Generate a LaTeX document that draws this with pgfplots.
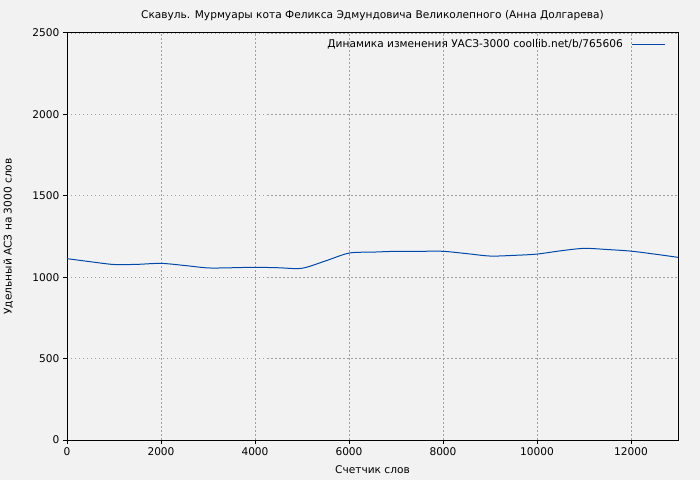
\documentclass[border=0pt]{standalone}
\usepackage{fontspec}
\setmainfont{DejaVu Sans}
\usepackage{pgfplots}
\pgfplotsset{compat=1.18}
\definecolor{bg}{HTML}{F2F2F2}
\definecolor{series}{RGB}{0,72,170}
\definecolor{gridc}{HTML}{A0A0A0}

\begin{document}
\fontsize{10.6bp}{12bp}\selectfont
\begin{tikzpicture}
\fill[bg] (-67bp,-40bp) rectangle (633bp,440bp);
\path[use as bounding box] (-67bp,-40bp) rectangle (633bp,440bp);
\begin{axis}[
    at={(0,0)}, anchor=south west,
    scale only axis,
    width=611bp, height=407bp,
    xmin=0, xmax=13000, ymin=0, ymax=2500,
    xtick={0,2000,...,12000},
    ytick={0,500,...,2500},
    tick align=outside,
    xtick pos=bottom, ytick pos=left,
    major tick length=4bp,
    /pgf/number format/1000 sep={},
    /pgf/number format/assume math mode=true,
    scaled ticks=false,
    ticklabel style={font=\fontsize{10.6bp}{12bp}\selectfont},
    grid=major,
    major grid style={gridc, dash pattern=on 1.5bp off 2.5bp, line width=0.6pt},
    axis line style={black, line width=1pt},
    every tick/.style={black, line width=1pt},
    axis background/.style={fill=bg},
    title={Скавуль. Мурмуары кота Феликса Эдмундовича Великолепного (Анна Долгарева)},
    title style={font=\fontsize{10.6bp}{12bp}\selectfont, at={(0.5,1)}, anchor=south, yshift=3bp},
    xlabel={Счетчик слов},
    ylabel={Удельный АСЗ на 3000 слов},
    xlabel style={font=\fontsize{10.6bp}{12bp}\selectfont, yshift=-3bp},
    ylabel style={font=\fontsize{10.6bp}{12bp}\selectfont, yshift=12bp},
    legend style={draw=none, fill=none, at={(1,1)}, anchor=north east,
        xshift=-9bp, yshift=-2bp,
        font=\fontsize{10.6bp}{12bp}\selectfont,
        /tikz/every odd column/.append style={column sep=7bp}},
    legend plot pos=right,
    legend cell align=right,
    legend image code/.code={\draw[#1] (0bp,0bp) -- (33bp,0bp);},
]
\addplot[series, line width=1bp, smooth, tension=0.5] coordinates {
(0,1114) (500,1095) (1000,1078) (1500,1079) (2000,1085) (2500,1072)
(3000,1057) (3500,1058) (4000,1061) (4500,1058) (5000,1055) (5500,1100)
(6000,1148) (6500,1154) (7000,1159) (7500,1159) (8000,1159) (8500,1145)
(9000,1130) (9500,1134) (10000,1142) (10500,1162) (11000,1177) (11500,1170)
(12000,1160) (12500,1142) (13000,1122)
};
\addlegendentry{Динамика изменения УАСЗ-3000 coollib.net/b/765606}
\end{axis}
\end{tikzpicture}
\end{document}
